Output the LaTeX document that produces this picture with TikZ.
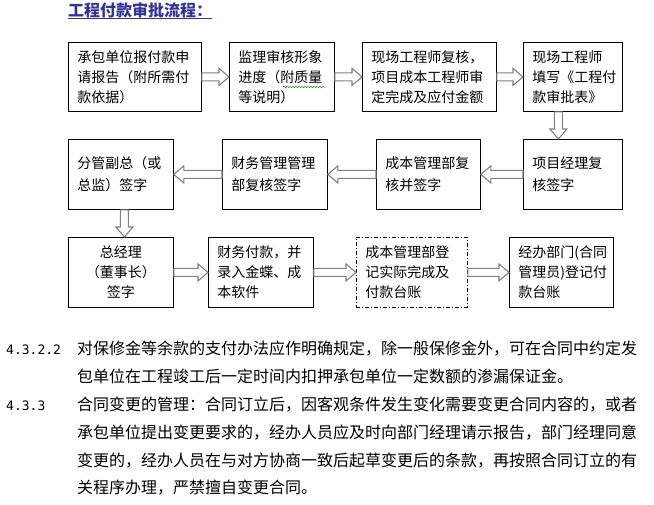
\documentclass[tikz,border=0pt]{standalone}
\usepackage{fontspec}
\setmainfont{Noto Sans CJK SC}
\newfontfamily\numfont{DejaVu Sans Mono}
\usepackage{tikz}
\usetikzlibrary{calc,decorations.pathmorphing}

\definecolor{titleblue}{RGB}{51,51,153}
\definecolor{arrowgray}{RGB}{128,128,128}

\tikzset{
  flowbox/.style={draw, line width=0.8pt, anchor=north west, inner xsep=9pt,
    inner ysep=0pt, align=left, minimum height=69pt,
    font=\fontsize{14}{20}\selectfont},
  blockarrow/.style={draw=arrowgray, fill=white, line width=1.1pt, line join=miter,
    to path={let \p1=(\tikztostart), \p2=(\tikztotarget),
      \p3=($(\tikztotarget)!10pt!(\tikztostart)$) in
      ($(\p1)!4pt!90:(\p2)$) -- ($(\p3)!4pt!90:(\p2)$) -- ($(\p3)!8.5pt!90:(\p2)$)
      -- (\p2) -- ($(\p3)!8.5pt!-90:(\p2)$) -- ($(\p3)!4pt!-90:(\p2)$)
      -- ($(\p1)!4pt!-90:(\p2)$) -- cycle}},
  bodyline/.style={anchor=base west, inner sep=0pt, font=\fontsize{16}{16}\selectfont}
}

\begin{document}
\begin{tikzpicture}[x=1pt, y=-1pt]
  \useasboundingbox (0,0) rectangle (654,504);
  % title
  \node[anchor=base west, inner sep=0pt, text=titleblue,
    font=\fontsize{16}{16}\selectfont\bfseries] (title) at (68,16) {工程付款审批流程：};
  \draw[titleblue, line width=1pt] ([yshift=-2pt]title.base west) -- ([yshift=-2pt]title.base east);
  % row 1
  \node[flowbox, text width=115pt] (apply) at (68,42) {承包单位报付款申\\请报告（附所需付\\款依据）};
  \node[flowbox, text width=87pt] (supervise) at (229,42) {监理审核形象\\进度（附质量\\等说明）};
  \node[flowbox, text width=116pt] (siteeng) at (362,42) {现场工程师复核，\\项目成本工程师审\\定完成及应付金额};
  \node[flowbox, text width=81pt] (fillform) at (523,42) {现场工程师\\填写《工程付\\款审批表》};
  \draw[green!55!black, line width=0.5pt, decorate,
    decoration={snake, amplitude=0.6pt, segment length=3pt}] (283,87) -- (325,87);
  % row 2
  \node[flowbox, text width=87pt, minimum height=70pt,
    font=\fontsize{14}{22}\selectfont] (vpsign) at (68,139) {分管副总（或\\总监）签字};
  \node[flowbox, text width=87pt, minimum height=70pt,
    font=\fontsize{14}{22}\selectfont] (fincheck) at (222,139) {财务管理管理\\部复核签字};
  \node[flowbox, text width=86pt, minimum height=70pt,
    font=\fontsize{14}{22}\selectfont] (costcheck) at (376,139) {成本管理部复\\核并签字};
  \node[flowbox, text width=81pt, minimum height=70pt,
    font=\fontsize{14}{22}\selectfont] (pmcheck) at (523,139) {项目经理复\\核签字};
  % row 3
  \node[flowbox, text width=87pt, minimum height=70pt, align=center] (gmsign) at (68,237) {总经理\\（董事长）\\签字};
  \node[flowbox, text width=87pt, minimum height=70pt] (payment) at (208,237) {财务付款，并\\录入金蝶、成\\本软件};
  \node[flowbox, text width=93pt, minimum height=70pt,
    dash pattern=on 4pt off 2pt on 1pt off 2pt] (register) at (356,237) {成本管理部登\\记实际完成及\\付款台账};
  \node[flowbox, text width=86pt, minimum height=70pt] (ledger) at (509,237) {经办部门(合同\\管理员)登记付\\款台账};
  % connectors
  \draw[blockarrow] (apply.east) to (supervise.west);
  \draw[blockarrow] (supervise.east) to (siteeng.west);
  \draw[blockarrow] (siteeng.east) to (fillform.west);
  \draw[blockarrow] ([xshift=-14.5pt]fillform.south) to ([xshift=-14.5pt]pmcheck.north);
  \draw[blockarrow] (pmcheck.west) to (costcheck.east);
  \draw[blockarrow] (costcheck.west) to (fincheck.east);
  \draw[blockarrow] (fincheck.west) to (vpsign.east);
  \draw[blockarrow] ([xshift=3.5pt]vpsign.south) to ([xshift=3.5pt]gmsign.north);
  \draw[blockarrow] (gmsign.east) to (payment.west);
  \draw[blockarrow] (payment.east) to (register.west);
  \draw[blockarrow] (register.east) to (ledger.west);
  % clauses below the chart
  \node[anchor=base west, inner sep=0pt, font=\numfont\fontsize{13}{13}\selectfont] (num1) at (6,354) {4.3.2.2};
  \node[bodyline] (line1) at (77,354) {对保修金等余款的支付办法应作明确规定，除一般保修金外，可在合同中约定发};
  \node[bodyline] (line2) at (77,382) {包单位在工程竣工后一定时间内扣押承包单位一定数额的渗漏保证金。};
  \node[anchor=base west, inner sep=0pt, font=\numfont\fontsize{13}{13}\selectfont] (num2) at (6,410) {4.3.3};
  \node[bodyline] (line3) at (77,410) {合同变更的管理：合同订立后，因客观条件发生变化需要变更合同内容的，或者};
  \node[bodyline] (line4) at (77,438) {承包单位提出变更要求的，经办人员应及时向部门经理请示报告，部门经理同意};
  \node[bodyline] (line5) at (77,466) {变更的，经办人员在与对方协商一致后起草变更后的条款，再按照合同订立的有};
  \node[bodyline] (line6) at (77,493) {关程序办理，严禁擅自变更合同。};
\end{tikzpicture}
\end{document}
